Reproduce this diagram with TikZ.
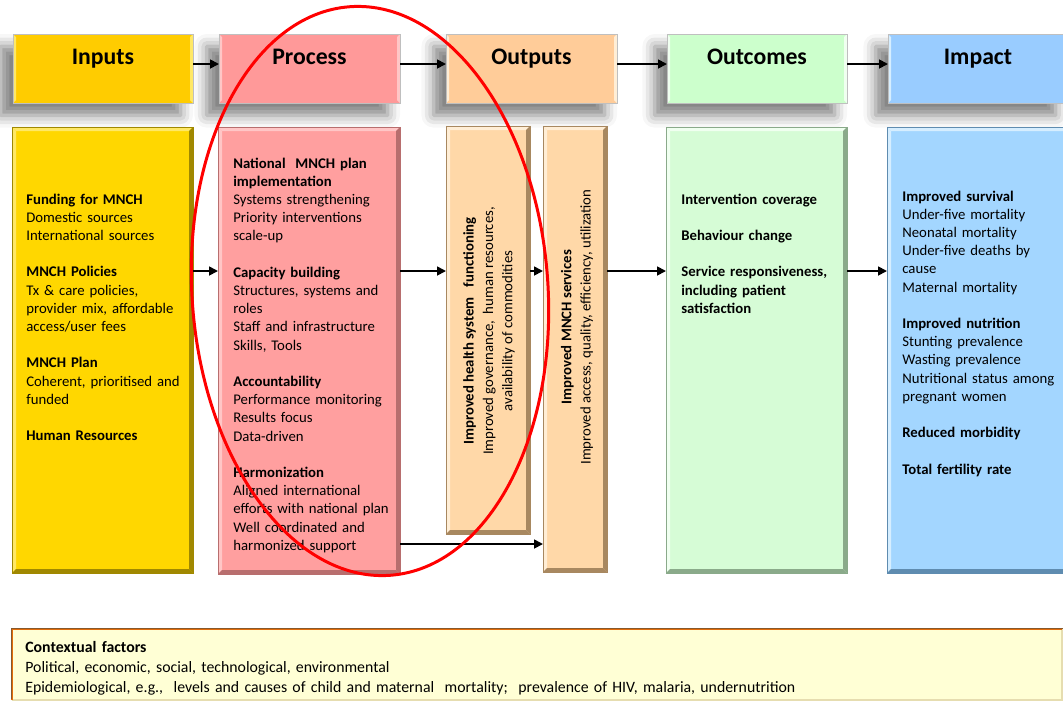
\documentclass[tikz,border=0pt]{standalone}
\usepackage{fontspec}
\setmainfont{Carlito}
\usetikzlibrary{arrows.meta,shadows.blur,fit,calc}
\definecolor{hIn}{HTML}{FFCC00}
\definecolor{bIn}{HTML}{FFD700}
\definecolor{dIn}{HTML}{A08800}
\definecolor{lIn}{HTML}{FFE866}
\definecolor{hPr}{HTML}{FF9999}
\definecolor{bPr}{HTML}{FF9F9F}
\definecolor{dPr}{HTML}{B86E6E}
\definecolor{lPr}{HTML}{FFC6C6}
\definecolor{hOu}{HTML}{FFCC99}
\definecolor{bOu}{HTML}{FFD8A8}
\definecolor{dOu}{HTML}{A88860}
\definecolor{lOu}{HTML}{FFEED6}
\definecolor{hOc}{HTML}{CCFFCC}
\definecolor{bOc}{HTML}{D6FCD6}
\definecolor{dOc}{HTML}{8AAA8A}
\definecolor{lOc}{HTML}{F0FFF0}
\definecolor{hIm}{HTML}{99CCFF}
\definecolor{bIm}{HTML}{A3D6FF}
\definecolor{dIm}{HTML}{5F8CB0}
\definecolor{lIm}{HTML}{D6EEFF}
\definecolor{ctx}{HTML}{FFFFD5}
\definecolor{ctxb}{HTML}{E36C09}
\definecolor{ctxd}{HTML}{E6DDB0}
\newcommand\bevl[4]{%
 \fill[#2] (#1.north west) -- (#1.north east) -- ([shift={(-#4,#4)}]#1.north east) -- ([shift={(#4,#4)}]#1.north west) -- cycle;
 \fill[#2] (#1.north west) -- ([shift={(#4,#4)}]#1.north west) -- ([shift={(#4,-#4)}]#1.south west) -- (#1.south west) -- cycle;
 \fill[#3] (#1.north east) -- ([shift={(-#4,#4)}]#1.north east) -- ([shift={(-#4,-#4)}]#1.south east) -- (#1.south east) -- cycle;
 \fill[#3] (#1.south west) -- ([shift={(#4,-#4)}]#1.south west) -- ([shift={(-#4,-#4)}]#1.south east) -- (#1.south east) -- cycle;
 \draw[#3, line width=0.4pt] (#1.north west) rectangle (#1.south east);}
\newcommand\hbevl[2]{%
 \fill[#2] (#1.north west) -- ([shift={(3,3)}]#1.north west) -- ([shift={(3,-3)}]#1.south west) -- (#1.south west) -- cycle;
 \fill[#2] (#1.north east) -- ([shift={(-3,3)}]#1.north east) -- ([shift={(-3,-3)}]#1.south east) -- (#1.south east) -- cycle;
 \draw[black!25, line width=0.4pt] (#1.north west) rectangle (#1.south east);}
\begin{document}
\begin{tikzpicture}[x=0.02cm,y=-0.02cm,
  hdrbox/.style={inner sep=0pt, outer sep=0pt, blur shadow={shadow xshift=-7pt, shadow yshift=-7pt, shadow blur radius=7pt, shadow opacity=50}},
  bodybox/.style={inner sep=0pt, outer sep=0pt},
  hdrtext/.style={font=\fontsize{13.5}{16}\selectfont\bfseries, anchor=base, inner sep=0pt},
  bodytext/.style={font=\fontsize{8.4}{10.36}\selectfont, anchor=base west, inner sep=0pt, align=left, text width=3.6cm},
  rottext/.style={font=\fontsize{8.4}{11}\selectfont, inner sep=0pt, align=center, rotate=90},
  ctxtext/.style={font=\fontsize{9}{11.4}\selectfont, anchor=base west, inner sep=0pt, align=left, text width=20cm},
  arr/.style={-{Triangle[length=5pt,width=5pt]}, line width=1pt, black}]
\useasboundingbox (0,0) rectangle (1063,701);
\clip (0,0) rectangle (1063,701);
% header boxes
\node[hdrbox, fill=hIn, fit={(13,34)(193,103)}] (h1) {};
\node[hdrbox, fill=hPr, fit={(219,34)(400,103)}] (h2) {};
\node[hdrbox, fill=hOu, fit={(446,34)(617,103)}] (h3) {};
\node[hdrbox, fill=hOc, fit={(667,34)(847,103)}] (h4) {};
\node[hdrbox, fill=hIm, fit={(888,34)(1068,103)}] (h5) {};
\hbevl{h1}{lIn}\hbevl{h2}{lPr}\hbevl{h3}{lOu}\hbevl{h4}{lOc}\hbevl{h5}{lIm}
\node[hdrtext] (t1) at (h1.center |- 0,64) {Inputs};
\node[hdrtext] (t2) at (h2.center |- 0,64) {Process};
\node[hdrtext] (t3) at (h3.center |- 0,64) {Outputs};
\node[hdrtext] (t4) at (h4.center |- 0,64) {Outcomes};
\node[hdrtext] (t5) at (h5.center |- 0,64) {Impact};
% body boxes
\node[bodybox, fill=bIn, fit={(12,127)(193,573)}] (ib) {};
\node[bodybox, fill=bPr, fit={(218,127)(400,574)}] (pb) {};
\node[bodybox, fill=bOu, fit={(446,126)(530,534)}] (o1) {};
\node[bodybox, fill=bOu, fit={(543,126)(607,572)}] (o2) {};
\node[bodybox, fill=bOc, fit={(666,127)(847,573)}] (oc) {};
\node[bodybox, fill=bIm, fit={(887,127)(1068,573)}] (im) {};
\bevl{ib}{lIn}{dIn}{4}\bevl{pb}{lPr}{dPr}{4}\bevl{o1}{lOu}{dOu}{4}
\bevl{o2}{lOu}{dOu}{4}\bevl{oc}{lOc}{dOc}{4}\bevl{im}{lIm}{dIm}{4}
% context box
\node[bodybox, fill=ctx, fit={(12,629)(1062,700)}] (cx) {};
\draw[ctxd, line width=1.5pt] (cx.north east) -- (cx.south east) -- (cx.south west);
\draw[ctxb, line width=1.5pt] (cx.south west) -- (cx.north west) -- (cx.north east);
\draw[brown!70!black, line width=0.4pt] ([shift={(-1,-1)}]cx.south west) -- ([shift={(-1,-1)}]cx.north west) -- ([shift={(1,-1)}]cx.north east);
% body texts
\node[bodytext] (it) at (26,204) {\textbf{Funding for MNCH}\\Domestic sources\\International sources\\[10.36pt]\textbf{MNCH Policies}\\Tx \& care policies,\\provider mix, affordable\\access/user fees\\[10.36pt]\textbf{MNCH Plan}\\Coherent, prioritised and\\funded\\[10.36pt]\textbf{Human Resources}};
\node[bodytext] (pt) at (233,168) {\textbf{National\ \ MNCH plan}\\\textbf{implementation}\\Systems strengthening\\Priority interventions\\scale-up\\[10.36pt]\textbf{Capacity building}\\Structures, systems and\\roles\\Staff and infrastructure\\Skills, Tools\\[10.36pt]\textbf{Accountability}\\Performance monitoring\\Results focus\\Data-driven\\[10.36pt]\textbf{Harmonization}\\Aligned international\\efforts with national plan\\Well coordinated and\\harmonized support};
\node[rottext] (o1t) at (489,331) {\textbf{Improved health system\ \ \ functioning}\\Improved governance,\ \ human resources,\\availability of commodities};
\node[rottext] (o2t) at (577,327) {\textbf{Improved MNCH services}\\Improved access, quality, efficiency, utilization};
\node[bodytext, font=\fontsize{8.4}{10.36}\selectfont\bfseries] (ot) at (681,204) {Intervention coverage\\[10.36pt]Behaviour change\\[10.36pt]Service responsiveness,\\including patient\\satisfaction};
\node[bodytext] (mt) at (902,201) {\textbf{Improved survival}\\Under-five mortality\\Neonatal mortality\\Under-five deaths by\\cause\\Maternal mortality\\[10.36pt]\textbf{Improved nutrition}\\Stunting prevalence\\Wasting prevalence\\Nutritional status among\\pregnant women\\[10.36pt]\textbf{Reduced morbidity}\\[10.36pt]\textbf{Total fertility rate}};
\node[ctxtext] (ct) at (25,652) {\textbf{Contextual factors}\\Political, economic, social, technological, environmental\\Epidemiological, e.g.,\ \ levels and causes of child and maternal\ \ mortality;\ \ prevalence of HIV, malaria, undernutrition};
% arrows
\coordinate (hrow) at (0,64);
\coordinate (row) at (0,271);
\coordinate (row2) at (0,544);
\draw[arr] (h1.east |- hrow) -- (h2.west |- hrow);
\draw[arr] (h2.east |- hrow) -- (h3.west |- hrow);
\draw[arr] (h3.east |- hrow) -- (h4.west |- hrow);
\draw[arr] (h4.east |- hrow) -- (h5.west |- hrow);
\draw[arr] (ib.east |- row) -- (pb.west |- row);
\draw[arr] (pb.east |- row) -- (o1.west |- row);
\draw[arr] (o1.east |- row) -- (o2.west |- row);
\draw[arr] (o2.east |- row) -- (oc.west |- row);
\draw[arr] (oc.east |- row) -- (im.west |- row);
\draw[arr] (pb.east |- row2) -- (o2.west |- row2);
% red ellipse
\coordinate (ec) at (370,291);
\draw[red, line width=1.7pt, rotate around={4:(ec)}] (ec) ellipse [x radius=178, y radius=285];
\end{tikzpicture}
\end{document}
